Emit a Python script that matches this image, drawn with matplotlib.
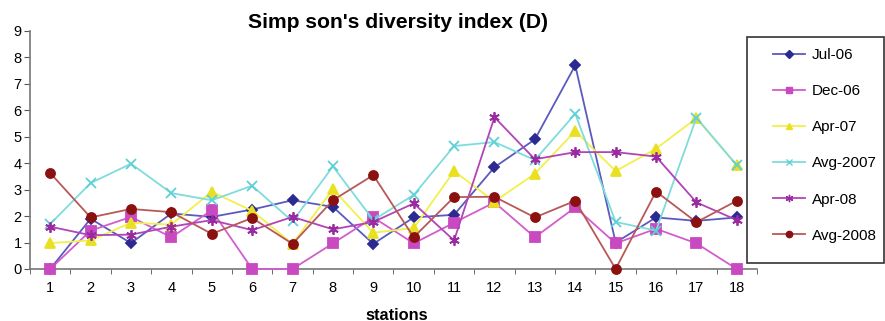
import matplotlib
matplotlib.use("Agg")
import matplotlib.pyplot as plt
from matplotlib.patches import Rectangle
from matplotlib.lines import Line2D

plt.rcParams["font.family"] = ["Liberation Sans", "DejaVu Sans"]

stations = list(range(1, 19))

jul_06   = [0.0, 1.9, 0.98, 2.1, 1.97, 2.25, 2.6, 2.35, 0.95, 1.95, 2.05, 3.85, 4.9, 7.7, 1.0, 1.95, 1.82, 1.95]
dec_06   = [0.0, 1.45, 1.97, 1.2, 2.22, 0.0, 0.0, 0.97, 1.95, 0.97, 1.75, 2.52, 1.2, 2.33, 0.97, 1.52, 0.97, 0.0]
apr_07   = [0.98, 1.08, 1.75, 1.68, 2.92, 2.2, 0.95, 3.02, 1.37, 1.55, 3.7, 2.55, 3.6, 5.22, 3.7, 4.55, 5.7, 3.92]
avg_2007 = [1.7, 3.25, 3.98, 2.87, 2.6, 3.15, 1.8, 3.88, 1.85, 2.8, 4.65, 4.8, 4.12, 5.87, 1.78, 1.45, 5.72, 3.92]
apr_08   = [1.6, 1.28, 1.3, 1.6, 1.85, 1.47, 1.97, 1.5, 1.78, 2.48, 1.08, 5.74, 4.15, 4.42, 4.42, 4.25, 2.52, 1.85]
avg_2008 = [3.63, 1.95, 2.27, 2.15, 1.33, 1.93, 0.95, 2.6, 3.55, 1.2, 2.72, 2.73, 1.95, 2.58, 0.0, 2.93, 1.77, 2.58]

series = [
    ("Jul-06",   jul_06,   "#5a5ac0", "#2a2a90", "D",       5.5),
    ("Dec-06",   dec_06,   "#d45ccc", "#c849c0", "s",       6.5),
    ("Apr-07",   apr_07,   "#f2f04a", "#e8e020", "^",       6.5),
    ("Avg-2007", avg_2007, "#7fdcdc", "#5fd0d4", "x",       6.5),
    ("Apr-08",   apr_08,   "#b044b8", "#9a2aa0", (6, 2, 0), 7.5),
    ("Avg-2008", avg_2008, "#b85858", "#8b1010", "o",       6.5),
]

fig = plt.figure(figsize=(8.85, 3.21), dpi=100)
ax = fig.add_axes([30 / 885, 1 - 269 / 321, (757 - 30) / 885, (269 - 31) / 321])

for name, vals, lc, mc, mk, ms in series:
    ax.plot(stations, vals, color=lc, lw=1.3, marker=mk, markersize=ms,
            markerfacecolor=mc, markeredgecolor=mc, markeredgewidth=1.3,
            label=name, clip_on=False, zorder=3)

ax.set_xlim(0.5, 18.5)
ax.set_ylim(0, 9)
ax.set_yticks(range(0, 10))
ax.set_xticks(stations)
ax.set_xticks([s + 0.5 for s in stations[:-1]] + [0.5, 18.5], minor=True)
ax.tick_params(axis="x", which="major", length=0, labelsize=10.5, pad=9)
ax.tick_params(axis="x", which="minor", length=3.5, color="#555555", direction="out")
ax.tick_params(axis="y", length=4, color="#555555", labelsize=10.5, pad=2)
for side in ("top", "right"):
    ax.spines[side].set_visible(False)
for side in ("left", "bottom"):
    ax.spines[side].set_color("#777777")
    ax.spines[side].set_linewidth(1.2)

fig.text(398 / 885, 1 - 22 / 321, "Simp son's diversity index (D)",
         ha="center", va="center", fontsize=15.2, fontweight="bold")
fig.text(397 / 885, 1 - 315 / 321, "stations",
         ha="center", va="center", fontsize=11.8, fontweight="bold")

# legend frame
fig.patches.append(Rectangle((747 / 885, 1 - 263 / 321), (884 - 747) / 885, (263 - 37) / 321,
                             transform=fig.transFigure, fill=False,
                             edgecolor="#333333", linewidth=1.2))

handles = [Line2D([0], [0], color=lc, lw=1.3, marker=mk, markersize=ms * 0.7,
                  markerfacecolor=mc, markeredgecolor=mc)
           for name, vals, lc, mc, mk, ms in series]
fig.legend(handles, [s[0] for s in series], loc="upper left",
           bbox_to_anchor=(773 / 885, 1 - 48 / 321), frameon=False,
           fontsize=11, labelspacing=1.45, handlelength=2.1,
           handletextpad=0.45, borderaxespad=0, borderpad=0)

fig.savefig("out.png", dpi=100)
